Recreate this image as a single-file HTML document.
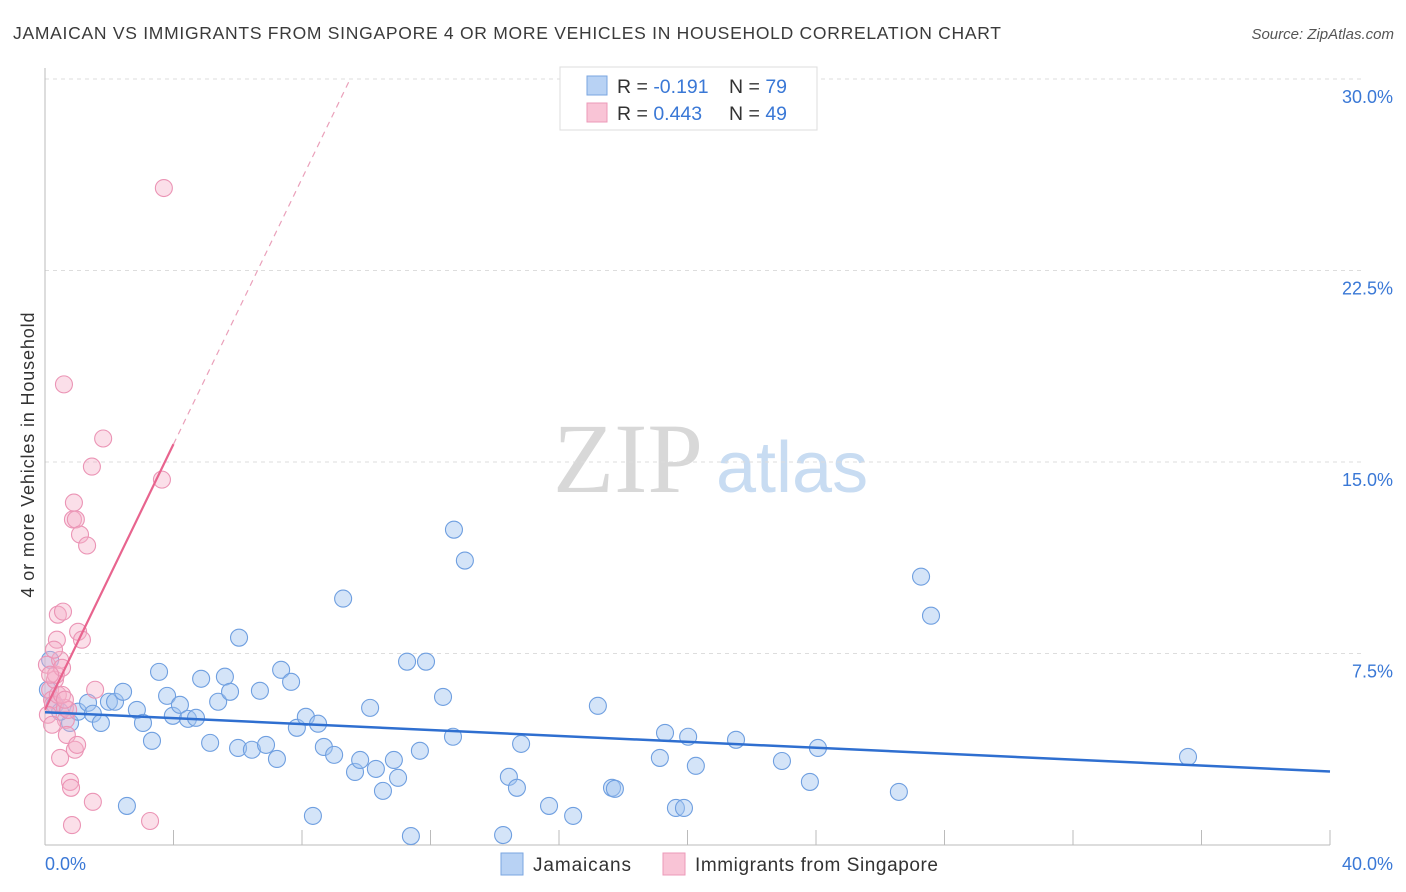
<!DOCTYPE html>
<html><head><meta charset="utf-8">
<style>
body{margin:0;background:#fff;font-family:"Liberation Sans",sans-serif;}
#wrap{position:relative;width:1406px;height:892px;overflow:hidden;}
</style></head>
<body>
<div id="wrap">
<svg id="chart" width="1406" height="892" xmlns="http://www.w3.org/2000/svg">
<text x="13" y="39" font-size="17.5" fill="#3a3a3a" textLength="988" lengthAdjust="spacing">JAMAICAN VS IMMIGRANTS FROM SINGAPORE 4 OR MORE VEHICLES IN HOUSEHOLD CORRELATION CHART</text>
<text x="1394" y="39" font-size="15" fill="#555" font-style="italic" text-anchor="end">Source: ZipAtlas.com</text>
<text transform="translate(34,455) rotate(-90)" font-size="18" fill="#333" text-anchor="middle" textLength="285" lengthAdjust="spacing">4 or more Vehicles in Household</text>
<g>
<text x="553" y="492" font-family="Liberation Serif,serif" font-size="100" fill="#d8d8d8">ZIP</text>
<text x="716" y="492" font-size="72" fill="#c8dcf2">atlas</text>
</g>
<g id="grid"></g>
<g id="axes"></g>
<g id="pts"></g>
<g id="trend"></g>
<g>
<rect x="560" y="67" width="257" height="63" fill="#fff" stroke="#ddd"/>
<rect x="587" y="76" width="20" height="19" fill="#b8d2f4" stroke="#7aa6e0"/>
<rect x="587" y="103" width="20" height="19" fill="#f9c4d6" stroke="#ec9ab8"/>
<text x="617" y="93" font-size="19.5" fill="#333">R = <tspan fill="#3a78d6">-0.191</tspan></text>
<text x="729" y="93" font-size="19.5" fill="#333">N = <tspan fill="#3a78d6">79</tspan></text>
<text x="617" y="120" font-size="19.5" fill="#333">R = <tspan fill="#3a78d6">0.443</tspan></text>
<text x="729" y="120" font-size="19.5" fill="#333">N = <tspan fill="#3a78d6">49</tspan></text>
</g>
<g>
<rect x="501" y="853" width="22" height="22" fill="#b8d2f4" stroke="#7aa6e0"/>
<text x="533" y="871" font-size="19" fill="#333" textLength="98" lengthAdjust="spacing">Jamaicans</text>
<rect x="663" y="853" width="22" height="22" fill="#f9c4d6" stroke="#ec9ab8"/>
<text x="695" y="871" font-size="19" fill="#333" textLength="243" lengthAdjust="spacing">Immigrants from Singapore</text>
</g>
</svg>
</div>
<script>
const yTicks=[7.5,15,22.5,30];
const yTickLabels=["7.5%","15.0%","22.5%","30.0%"];
const xTicks=[0,4,8,12,16,20,24,28,32,36,40];
const blueX=[0.78,1.03,1.34,1.49,1.74,1.99,2.18,2.43,2.55,2.86,3.05,3.33,3.55,3.80,3.98,4.20,4.45,4.70,4.86,5.14,5.39,5.60,5.76,6.01,6.04,6.44,6.69,6.88,7.22,7.35,7.66,7.84,8.12,8.34,8.50,8.68,9.00,9.28,9.65,9.81,10.12,10.30,10.52,10.86,10.99,11.27,11.39,11.67,11.86,12.39,12.70,12.73,13.07,14.26,14.44,14.69,14.82,15.69,16.44,17.21,17.65,17.74,19.14,19.30,19.64,19.89,20.02,20.26,21.51,22.94,23.81,24.06,26.58,27.27,27.58,35.58,0.16,0.31,0.09,0.47];
const blueY=[4.78,5.22,5.57,5.14,4.78,5.61,5.61,6.0,1.53,5.29,4.78,4.08,6.78,5.84,5.06,5.49,4.94,4.98,6.51,4.0,5.61,6.59,6.0,3.80,8.12,3.73,6.04,3.92,3.37,6.86,6.39,4.59,5.02,1.14,4.75,3.84,3.53,9.65,2.86,3.33,5.37,2.98,2.12,3.33,2.63,7.18,0.35,3.69,7.18,5.80,4.24,12.35,11.14,0.39,2.67,2.24,3.96,1.53,1.14,5.45,2.24,2.20,3.41,4.39,1.45,1.45,4.24,3.10,4.12,3.29,2.47,3.80,2.08,10.51,8.98,3.45,7.25,5.49,6.08,5.22];
const pinkX=[0.06,0.16,0.22,0.25,0.31,0.34,0.37,0.40,0.47,0.53,0.56,0.59,0.62,0.65,0.68,0.72,0.78,0.81,0.84,0.87,0.90,0.93,0.96,1.00,1.03,1.09,1.15,1.31,1.46,1.49,1.56,1.81,3.27,3.64,3.70,0.47,0.09,0.22,0.40,0.53,0.62,0.16,0.28];
const pinkY=[7.06,6.08,5.69,5.49,6.47,6.67,8.04,9.02,7.25,6.94,9.14,18.04,5.37,4.90,4.31,5.29,2.47,2.24,0.78,12.75,13.41,3.73,12.75,3.92,8.35,12.16,8.04,11.73,14.82,1.69,6.08,15.92,0.94,14.31,25.73,3.41,5.10,4.71,5.88,5.88,5.69,6.67,7.65];
const blueTrend=[5.2,-0.058];
const pinkTrend=[5.3,2.6];
const NS="http://www.w3.org/2000/svg";
const sx=v=>45+v*(1330-45)/40;
const sy=v=>845-v*(845-79)/30;
function mk(tag,attrs,parent){const e=document.createElementNS(NS,tag);for(const k in attrs)e.setAttribute(k,attrs[k]);document.getElementById(parent).appendChild(e);return e;}
yTicks.forEach((t,i)=>{
 const l=mk('line',{x1:45,x2:1365,y1:sy(t),y2:sy(t),stroke:'#ddd','stroke-dasharray':'4,4'},'grid');
 
 
 const tx=mk('text',{x:1393,y:sy(t)+24,'font-size':18,fill:'#3a78d6','text-anchor':'end'},'grid');
 tx.textContent=yTickLabels[i];
 
 
});
let a=mk('line',{x1:45,x2:45,y1:68,y2:845,stroke:'#bbb'},'axes');


a=mk('line',{x1:45,x2:1330,y1:845,y2:845,stroke:'#bbb'},'axes');


xTicks.forEach(t=>{
 if(t===0)return;
 const l=mk('line',{x1:sx(t),x2:sx(t),y1:830,y2:845,stroke:'#bbb'},'axes');
 
 
});
let xl=mk('text',{x:45,y:870,'font-size':18,fill:'#3a78d6'},'axes');xl.textContent=xTicks[0].toFixed(1)+'%';


xl=mk('text',{x:1393,y:870,'font-size':18,fill:'#3a78d6','text-anchor':'end'},'axes');xl.textContent=xTicks[xTicks.length-1].toFixed(1)+'%';


blueX.forEach((x,i)=>{
 const c=mk('circle',{cx:sx(x),cy:sy(blueY[i]),r:8.5,fill:'rgba(160,196,240,0.45)',stroke:'#6f9fe0','stroke-width':1.1},'pts');
 
 
});
pinkX.forEach((x,i)=>{
 const c=mk('circle',{cx:sx(x),cy:sy(pinkY[i]),r:8.5,fill:'rgba(246,176,200,0.4)',stroke:'#eb94b5','stroke-width':1.1},'pts');
 
 
});
let t=mk('line',{x1:sx(0),y1:sy(blueTrend[0]),x2:sx(40),y2:sy(blueTrend[0]+blueTrend[1]*40),stroke:'#2f6fd0','stroke-width':2.5},'trend');


t=mk('line',{x1:sx(0),y1:sy(pinkTrend[0]),x2:sx(4),y2:sy(pinkTrend[0]+pinkTrend[1]*4),stroke:'#e8648e','stroke-width':2.2},'trend');


const xe=(30-pinkTrend[0])/pinkTrend[1];
t=mk('line',{x1:sx(4),y1:sy(pinkTrend[0]+pinkTrend[1]*4),x2:sx(xe),y2:sy(30),stroke:'#eaa0ba','stroke-width':1.2,'stroke-dasharray':'6,5'},'trend');


</script>
</body></html>
